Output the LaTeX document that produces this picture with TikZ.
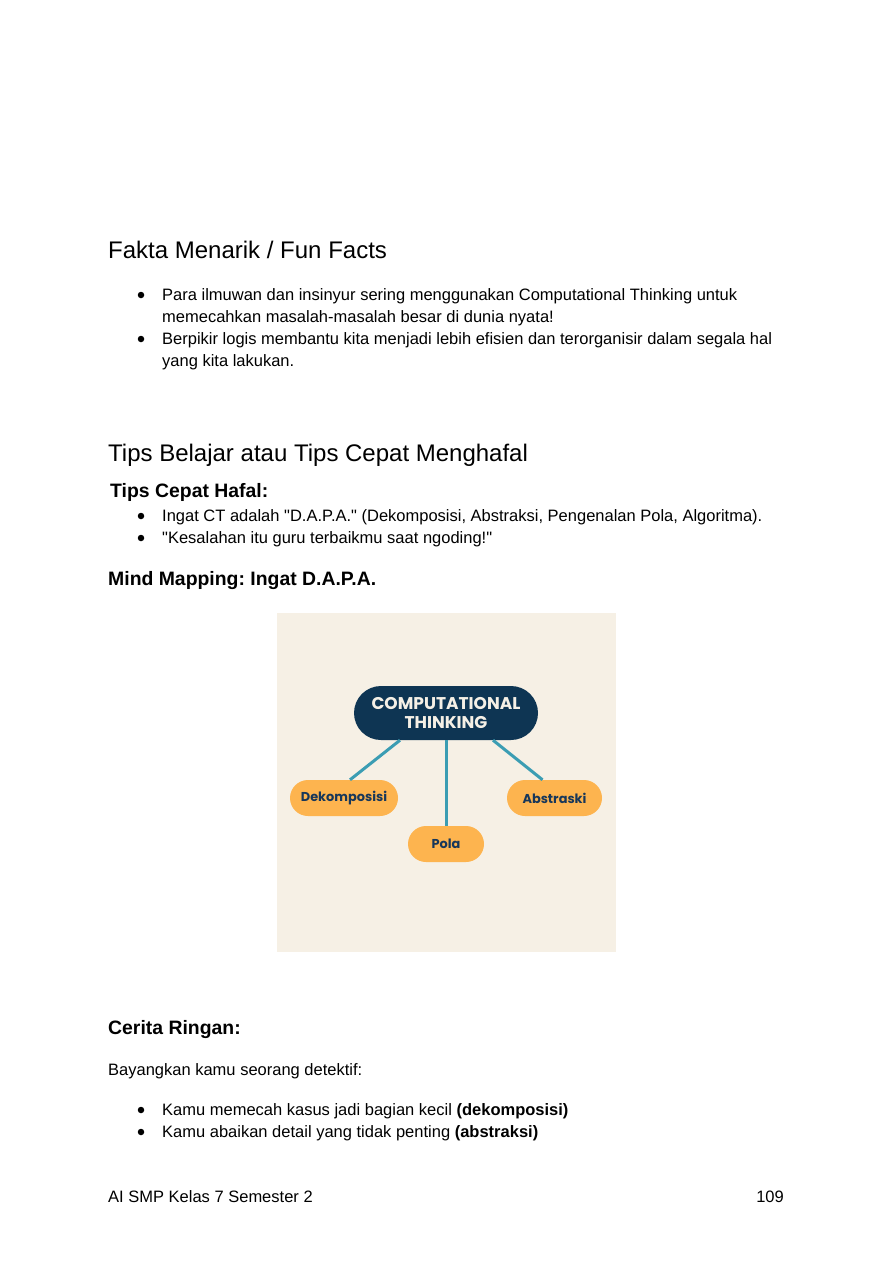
\documentclass[tikz,border=0pt]{standalone}
\usepackage{fontspec}
\setmainfont{Liberation Sans}[Ligatures=TeXOff]
\newfontfamily\mmfont{Poppins}
\definecolor{cream}{HTML}{F6F0E5}
\definecolor{navy}{HTML}{0E3553}
\definecolor{navytext}{HTML}{17375A}
\definecolor{orangebox}{HTML}{FDB44F}
\definecolor{tealline}{HTML}{3B9DB3}
\definecolor{ctwhite}{HTML}{F5F0E6}
\tikzset{
  bodytext/.style={anchor=base west, inner sep=0pt, font=\fontsize{16.5}{19}\selectfont},
  headone/.style={anchor=base west, inner sep=0pt, font=\fontsize{24}{28}\selectfont},
  headtwo/.style={anchor=base west, inner sep=0pt, font=\bfseries\fontsize{19.4}{23}\selectfont},
  bul/.style={circle, fill=black, inner sep=0pt, minimum size=6.5pt},
  ctbox/.style={fill=navy, rounded corners=27pt, minimum width=184pt, minimum height=54pt, inner sep=0pt,
     text=ctwhite, align=center, font=\mmfont\bfseries\fontsize{17}{19}\selectfont},
  leaf/.style={fill=orangebox, rounded corners=18pt, minimum height=36pt, inner sep=0pt,
     text=navytext, font=\mmfont\bfseries\fontsize{12.9}{15}\selectfont},
  link/.style={draw=tealline, line width=3pt}
}
\begin{document}
\frenchspacing
\begin{tikzpicture}[x=1pt,y=-1pt]
\useasboundingbox (0,0) rectangle (894,1263);
\fill[white] (0,0) rectangle (894,1263);

% Fun facts
\node[headone] (h1) at (108,258.5) {Fakta Menarik / Fun Facts};
\node[bul] (b1) at (141,295) {};
\node[bodytext] (f1a) at (162,300.5) {Para ilmuwan dan insinyur sering menggunakan Computational Thinking untuk};
\node[bodytext] (f1b) at (162,322.5) {memecahkan masalah-masalah besar di dunia nyata!};
\node[bul] (b2) at (141,339) {};
\node[bodytext] (f2a) at (162,344.5) {Berpikir logis membantu kita menjadi lebih efisien dan terorganisir dalam segala hal};
\node[bodytext] (f2b) at (162,366.5) {yang kita lakukan.};

% Tips
\node[headone] (h2) at (108,461.5) {Tips Belajar atau Tips Cepat Menghafal};
\node[headtwo] (h3) at (110,497.5) {Tips Cepat Hafal:};
\node[bul] (b3) at (141,516) {};
\node[bodytext] (t1) at (162,521.5) {Ingat CT adalah "D.A.P.A." (Dekomposisi, Abstraksi, Pengenalan Pola, Algoritma).};
\node[bul] (b4) at (141,538) {};
\node[bodytext] (t2) at (162,543.5) {"Kesalahan itu guru terbaikmu saat ngoding!"};
\node[headtwo] (h4) at (108,585) {Mind Mapping: Ingat D.A.P.A.};

% Mind map
\fill[cream] (277,613) rectangle (616,952);
\node[ctbox] (ct) at (446,713) {COMPUTATIONAL\\THINKING};
\node[leaf, minimum width=108pt] (dek) at (344,798) {Dekomposisi};
\node[leaf, minimum width=95pt] (abs) at (554.5,798) {Abstraski};
\node[leaf, minimum width=76pt] (pola) at (446,844) {Pola};
\draw[link] ([xshift=-46pt]ct.south) -- ([xshift=6pt]dek.north);
\draw[link] (ct.south) -- (pola.north);
\draw[link] ([xshift=47pt]ct.south) -- ([xshift=-12pt]abs.north);

% Cerita ringan
\node[headtwo] (h5) at (108,1034.5) {Cerita Ringan:};
\node[bodytext] (c0) at (108,1075.5) {Bayangkan kamu seorang detektif:};
\node[bul] (b5) at (141,1110) {};
\node[bodytext] (c1) at (162,1115.5) {Kamu memecah kasus jadi bagian kecil \textbf{(dekomposisi)}};
\node[bul] (b6) at (141,1132) {};
\node[bodytext] (c2) at (162,1137.5) {Kamu abaikan detail yang tidak penting \textbf{(abstraksi)}};

% Footer
\node[bodytext] (foot) at (108,1202.5) {AI SMP Kelas 7 Semester 2};
\node[bodytext, anchor=base east] (page) at (784,1202.5) {109};
\end{tikzpicture}
\end{document}
